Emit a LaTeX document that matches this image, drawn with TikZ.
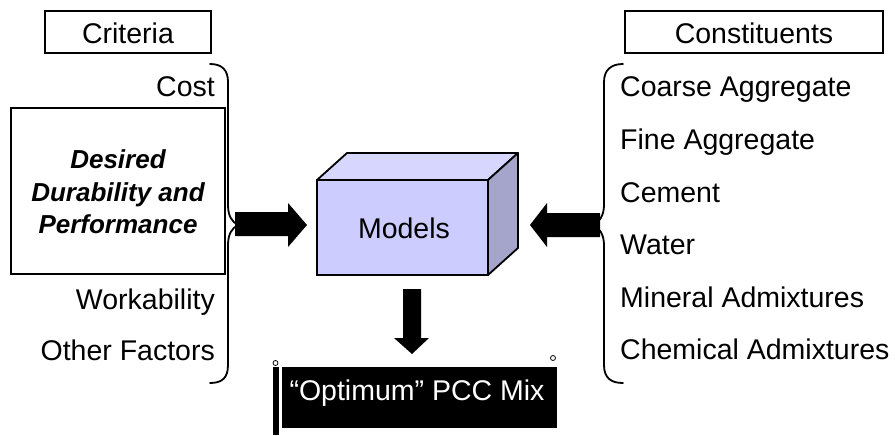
\documentclass[tikz,border=0pt]{standalone}
\usepackage{fontspec}
\setmainfont{Liberation Sans}
\begin{document}
\begin{tikzpicture}[x=1pt,y=-1pt,
  lbl/.style={font=\fontsize{28.5}{32}\selectfont, inner sep=0pt},
  hdrbox/.style={draw, line width=1.8pt, inner sep=0pt},
  brc/.style={line width=1.8pt, line cap=round, line join=round},
  blk/.style={fill=black, draw=none}]
\useasboundingbox (0,0) rectangle (895,436);
\fill[white] (0,0) rectangle (895,436);

% header boxes
\node[hdrbox, minimum width=166pt, minimum height=42pt] (crit) at (128,32) {};
\node[lbl, anchor=base] (crittxt) at (128,44) {Criteria};
\node[hdrbox, minimum width=258pt, minimum height=42pt] (cons) at (754,32) {};
\node[lbl, anchor=base] (constxt) at (754,44) {Constituents};

% desired box
\node[draw, line width=1.8pt, minimum width=214pt, minimum height=166pt, inner sep=0pt] (des) at (118,191) {};
\node[font=\fontsize{26}{32}\selectfont\bfseries\itshape, anchor=base, inner sep=0pt] (d1) at (118,168) {Desired};
\node[font=\fontsize{26}{32}\selectfont\bfseries\itshape, anchor=base, inner sep=0pt] (d2) at (118,201) {Durability and};
\node[font=\fontsize{26}{32}\selectfont\bfseries\itshape, anchor=base, inner sep=0pt] (d3) at (118,233) {Performance};

% left criteria
\node[lbl, anchor=base east] (cost) at (215,97) {Cost};
\node[lbl, anchor=base east] (work) at (215,309) {Workability};
\node[lbl, anchor=base east] (other) at (215,360) {Other Factors};

% right constituents
\node[lbl, anchor=base west] (c1) at (620,97) {Coarse Aggregate};
\node[lbl, anchor=base west] (c2) at (620,149) {Fine Aggregate};
\node[lbl, anchor=base west] (c3) at (620,202) {Cement};
\node[lbl, anchor=base west] (c4) at (620,254) {Water};
\node[lbl, anchor=base west] (c5) at (620,307) {Mineral Admixtures};
\node[lbl, anchor=base west] (c6) at (620,359) {Chemical Admixtures};

% braces
\coordinate (lbt) at (210,64);
\coordinate (lbb) at (210,383);
\coordinate (lbtip) at (238,225);
\draw[brc] (lbt) .. controls (222,64) and (228,70) .. (228,82) -- (228,205)
  .. controls (228,216) and (232,222) .. (lbtip)
  .. controls (232,228) and (228,234) .. (228,245) -- (228,365)
  .. controls (228,378) and (222,383) .. (lbb);
\coordinate (rbt) at (623,64);
\coordinate (rbb) at (623,383);
\coordinate (rbtip) at (593,225);
\draw[brc] (rbt) .. controls (611,64) and (604,70) .. (604,82) -- (604,205)
  .. controls (604,216) and (599,222) .. (rbtip)
  .. controls (599,228) and (604,234) .. (604,245) -- (604,365)
  .. controls (604,378) and (611,383) .. (rbb);

% Models box (3D)
\filldraw[fill={rgb,255:red,214;green,214;blue,255}, draw=black, line width=1.8pt, line join=round]
  (317,180) -- (347,153) -- (518,153) -- (488,180) -- cycle;
\filldraw[fill={rgb,255:red,165;green,165;blue,204}, draw=black, line width=1.8pt, line join=round]
  (488,180) -- (518,153) -- (518,248) -- (488,275) -- cycle;
\node[draw, line width=1.8pt, fill={rgb,255:red,204;green,204;blue,255}, minimum width=171pt, minimum height=95pt, inner sep=0pt] (models) at (402.5,227.5) {};
\node[lbl, anchor=base] (modtxt) at (404,238) {Models};

% Optimum box
\node[fill=black, minimum width=275pt, minimum height=61pt, inner sep=0pt] (opt) at (419.5,397.5) {};
\node[lbl, text=white, anchor=base] (opttxt) at (417,400) {“Optimum” PCC Mix};
\fill[black] (273,367) rectangle (279,435);
\draw[black, line width=0.8pt, fill=white] (275.5,363) circle (2.5pt);
\draw[black, line width=0.8pt, fill=white] (553,358) circle (2.5pt);

% block arrows
\coordinate (la) at (235,225);
\fill[blk] (235,212) -- (288,212) -- (288,203) -- (307,225) -- (288,247) -- (288,236) -- (235,236) -- cycle;
\coordinate (ra) at (600,225);
\fill[blk] (600,213) -- (547,213) -- (547,203) -- (530,225) -- (547,247) -- (547,237) -- (600,237) -- cycle;
\coordinate (da) at (412,289);
\fill[blk] (403,289) -- (421,289) -- (421,338) -- (429,338) -- (412,354) -- (394,338) -- (403,338) -- cycle;
\end{tikzpicture}
\end{document}
